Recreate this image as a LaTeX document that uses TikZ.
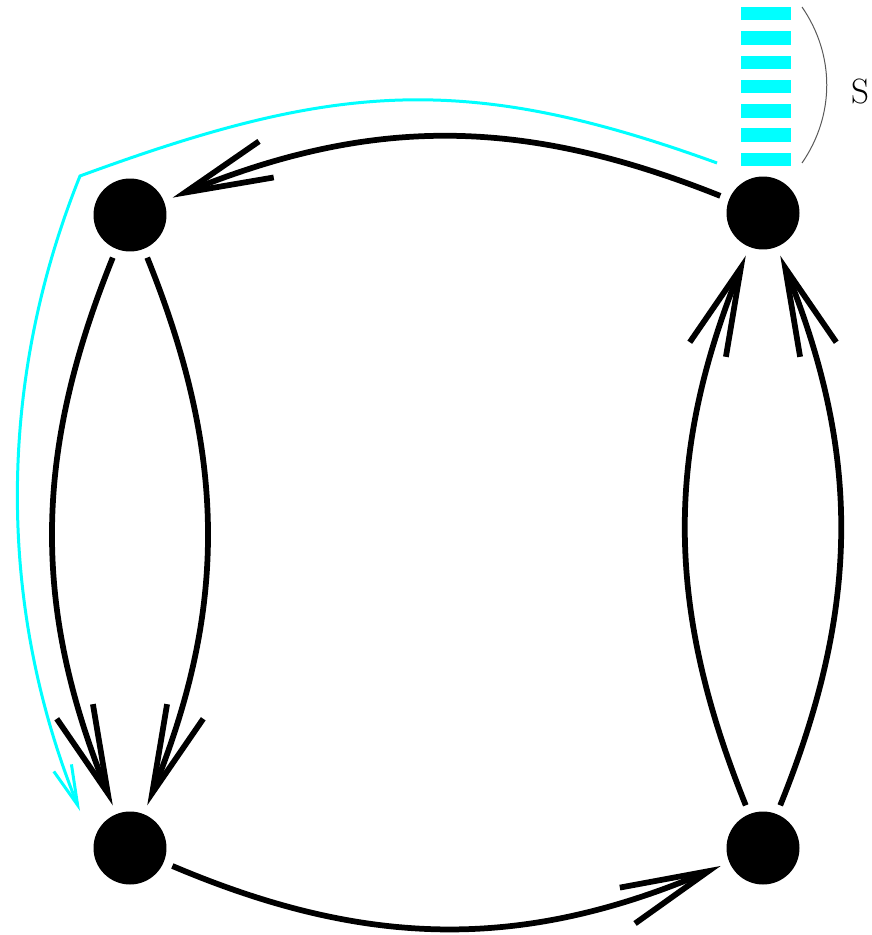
\documentclass[tikz,border=0pt]{standalone}
\usetikzlibrary{arrows.meta}
\definecolor{aqua}{RGB}{0,255,255}
\begin{document}
\begin{tikzpicture}[x=0.02cm,y=-0.02cm,
every node/.style = {
shape        = circle,
fill         = black,
inner sep    = 0pt,
minimum size = 1.46cm,
outer sep    = 0.19cm},
black edge/.style = { -{Straight Barb[length=1.76cm,width=0.78cm]},
line width = 0.115cm,
black},
cyan edge/.style  = { -{Straight Barb[length=0.8cm,width=0.38cm]},
line width = 0.06cm,
aqua},
stripe/.style = {fill=aqua}
]
\useasboundingbox (0,0) rectangle (871,935);
\node (n1) at (130,215) {};
\node (n2) at (763,213) {};
\node (n3) at (130,848) {};
\node (n4) at (763,848) {};
\node[shape=rectangle,fill=none,minimum size=0pt,outer sep=0pt,
      font=\fontsize{20}{24}\selectfont] (lS) at (860,92) {S};
%
\draw[black edge] (n2) to[bend right=22] (n1);
\draw[black edge] (n1) to[bend right=22] (n3);
\draw[black edge] (n1) to[bend left=22] (n3);
\draw[black edge] (n3) to[bend right=23] (n4);
\draw[black edge] (n4) to[bend left=22] (n2);
\draw[black edge] (n4) to[bend right=22] (n2);
%
\foreach \i in {0,...,6}
  \fill[stripe] (741,{7+24.3*\i}) rectangle ++(50,13.5);
\coordinate (s1) at (802,7);
\coordinate (s2) at (802,163);
\draw[gray!70!black,line width=0.02cm] (s1) .. controls (835,55) and (835,115) .. (s2);
%
\coordinate (c0) at (717,163);
\coordinate (c1) at (80,176);
\coordinate (c2) at (80,811);
\draw[cyan edge] (c0) .. controls (464,71) and (333,83) .. (c1)
  .. controls (-3,382) and (-3,605) .. (c2);
%
\end{tikzpicture}
\end{document}
